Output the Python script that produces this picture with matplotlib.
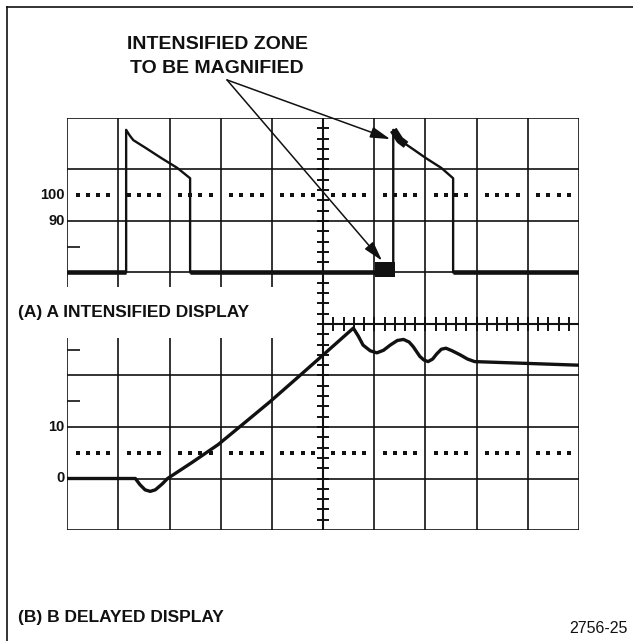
import matplotlib
matplotlib.use("Agg")
import matplotlib.pyplot as plt
from matplotlib.lines import Line2D
from matplotlib.patches import Rectangle

# ---------------- data (graticule divisions) ----------------
# (A) intensified display trace
a_trace_x = [0.00, 1.15, 1.15, 1.22, 1.29, 1.53, 1.84, 2.15, 2.40, 2.40,
             6.37, 6.37, 6.44, 6.50, 6.72, 7.01, 7.31, 7.54, 7.54, 10.00]
a_trace_y = [5.00, 5.00, 7.77, 7.66, 7.57, 7.42, 7.22, 7.03, 6.83, 5.00,
             5.00, 7.77, 7.66, 7.57, 7.42, 7.22, 7.03, 6.83, 5.00, 5.00]
# intensified zone (A display)
intensified_zone_x = [6.02, 6.40]
intensified_zone_y = [4.92, 5.21]
intensified_top_x = [6.37, 6.44, 6.50, 6.62]
intensified_top_y = [7.77, 7.66, 7.57, 7.48]

# (B) delayed (magnified) display trace
b_trace_x = [0.00, 1.33, 1.42, 1.52, 1.62, 1.72, 1.85, 1.96, 2.45, 2.95,
             3.45, 3.96, 4.50, 5.00, 5.59, 5.69, 5.78, 5.92, 6.05, 6.18,
             6.31, 6.45, 6.57, 6.68, 6.76, 6.89, 6.97, 7.05, 7.14, 7.22,
             7.31, 7.40, 7.52, 7.68, 7.82, 7.96, 10.00]
b_trace_y = [1.00, 1.00, 0.88, 0.78, 0.75, 0.78, 0.89, 1.00, 1.32, 1.66,
             2.07, 2.49, 2.96, 3.40, 3.92, 3.76, 3.59, 3.48, 3.44, 3.49,
             3.59, 3.68, 3.70, 3.65, 3.56, 3.37, 3.30, 3.27, 3.32, 3.42,
             3.51, 3.53, 3.48, 3.40, 3.32, 3.27, 3.20]

# level labels
a_level_labels = ["100", "90"]
a_level_values = [6.5, 6.0]
b_level_labels = ["10", "0"]
b_level_values = [2.0, 1.0]
dotted_levels = [6.5, 1.5]
side_tick_levels = [5.5, 3.5, 2.5]

# annotation
annotation_text = ["INTENSIFIED ZONE", "TO BE MAGNIFIED"]
arrow_start = (3.12, 8.74)
arrow_tips = [(6.31, 7.59), (6.15, 5.23)]
label_a = "(A) A INTENSIFIED DISPLAY"
label_b = "(B) B DELAYED DISPLAY"
figure_id = "2756-25"

# ---------------- layout ----------------
W, H = 633, 641
fig = plt.figure(figsize=(W / 100, H / 100), dpi=100)
fig.patch.set_facecolor("white")

gx0, gx1 = 67.3, 579.0     # graticule pixel extents
gy0, gy1 = 530.0, 118.0
ax = fig.add_axes([gx0 / W, 1 - gy0 / H, (gx1 - gx0) / W, (gy0 - gy1) / H])
ax.set_xlim(0, 10)
ax.set_ylim(0, 8)
ax.axis("off")

INK = "#111111"
FONT = "Liberation Sans"
GRID_LW = 1.2

# label gap (where the "(A)" caption sits) for the left half
gap_lo, gap_hi = 3.73, 4.72

# vertical graticule lines
for i in range(11):
    if i < 5:
        ax.plot([i, i], [0, gap_lo], color=INK, lw=GRID_LW, solid_capstyle="butt", zorder=1)
        ax.plot([i, i], [gap_hi, 8], color=INK, lw=GRID_LW, solid_capstyle="butt", zorder=1)
    else:
        ax.plot([i, i], [0, 8], color=INK, lw=GRID_LW, solid_capstyle="butt", zorder=1)

# horizontal graticule lines
for j in range(9):
    if j == 4:
        ax.plot([5, 10], [j, j], color=INK, lw=GRID_LW + 0.3, solid_capstyle="butt", zorder=1)
    else:
        ax.plot([0, 10], [j, j], color=INK, lw=GRID_LW, solid_capstyle="butt", zorder=1)

# center vertical axis minor ticks
for k in range(1, 40):
    y = 0.2 * k
    ax.plot([4.88, 5.12], [y, y], color=INK, lw=1.4, solid_capstyle="butt", zorder=1)
ax.plot([5, 5], [0, 8], color=INK, lw=GRID_LW + 0.3, zorder=1)

# center horizontal axis minor ticks (right half)
for k in range(1, 25):
    x = 5 + 0.2 * k
    ax.plot([x, x], [3.86, 4.14], color=INK, lw=1.4, solid_capstyle="butt", zorder=1)

# left side short ticks
for lv in side_tick_levels:
    ax.plot([0, 0.25], [lv, lv], color=INK, lw=GRID_LW, solid_capstyle="butt", zorder=1)

# dotted reference levels
for lv in dotted_levels:
    xs = [d + f for d in range(10) for f in (0.2, 0.4, 0.6, 0.8)]
    ax.plot(xs, [lv] * len(xs), linestyle="none", marker="s", ms=2.4,
            mew=0, color=INK, zorder=2)

# level labels
for txt, lv in zip(a_level_labels + b_level_labels, a_level_values + b_level_values):
    ax.text(-0.05, lv, txt, ha="right", va="center", fontsize=10.5,
            fontweight="bold", family=FONT, color=INK, clip_on=False)

# ---- A trace ----
ax.plot(a_trace_x, a_trace_y, color=INK, lw=1.7, solid_joinstyle="round", zorder=3)
for i in range(len(a_trace_x) - 1):
    if a_trace_y[i] == a_trace_y[i + 1] == a_trace_y[0]:
        ax.plot([a_trace_x[i], a_trace_x[i + 1]], [a_trace_y[i], a_trace_y[i + 1]],
                color=INK, lw=3.3, solid_capstyle="butt", zorder=3)
ax.add_patch(Rectangle((intensified_zone_x[0], intensified_zone_y[0]),
                       intensified_zone_x[1] - intensified_zone_x[0],
                       intensified_zone_y[1] - intensified_zone_y[0],
                       facecolor=INK, edgecolor="none", zorder=3))
ax.plot(intensified_top_x, intensified_top_y, color=INK, lw=5.5,
        solid_capstyle="butt", zorder=3)

# ---- B trace ----
ax.plot(b_trace_x, b_trace_y, color=INK, lw=2.4, solid_joinstyle="round",
        solid_capstyle="round", zorder=3)

# ---- arrows ----
for tip in arrow_tips:
    ax.annotate("", xy=tip, xytext=arrow_start,
                arrowprops=dict(arrowstyle="-|>,head_length=1.0,head_width=0.28",
                                lw=1.1, color=INK, shrinkA=0, shrinkB=0,
                                mutation_scale=12),
                zorder=4, annotation_clip=False)

# ---- texts ----
fig.text(217 / W, 1 - 49.3 / H, annotation_text[0], ha="center", va="baseline",
         fontsize=14, fontweight="bold", family=FONT, color=INK)
fig.text(217 / W, 1 - 73.3 / H, annotation_text[1], ha="center", va="baseline",
         fontsize=14, fontweight="bold", family=FONT, color=INK)
fig.text(18 / W, 1 - 317.5 / H, label_a, ha="left", va="baseline",
         fontsize=12.5, fontweight="bold", family=FONT, color=INK)
fig.text(18 / W, 1 - 621.7 / H, label_b, ha="left", va="baseline",
         fontsize=12.5, fontweight="bold", family=FONT, color=INK)
fig.text(628 / W, 1 - 632.7 / H, figure_id, ha="right", va="baseline",
         fontsize=11.5, family=FONT, color=INK)

# outer frame (top and left)
fy = 1 - 7 / H
fx = 6.5 / W
fig.add_artist(Line2D([fx, 1.0], [fy, fy], transform=fig.transFigure, color=INK, lw=1.2))
fig.add_artist(Line2D([fx, fx], [0.0, fy], transform=fig.transFigure, color=INK, lw=1.2))

fig.savefig("out.png", dpi=100, facecolor="white")
